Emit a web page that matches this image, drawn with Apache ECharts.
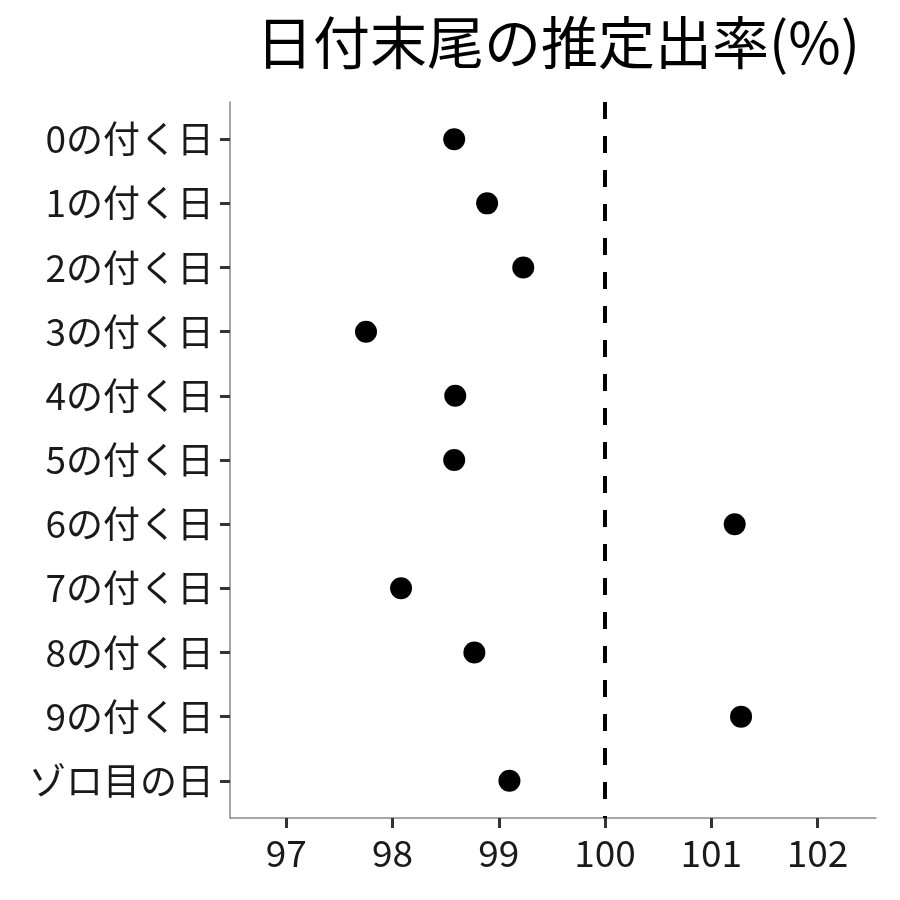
<!DOCTYPE html>
<html>
<head>
<meta charset="utf-8">
<script src="https://cdn.jsdelivr.net/npm/echarts@6/dist/echarts.min.js"></script>
<style>
  html, body { margin: 0; padding: 0; background: #fff; }
  #chart { width: 900px; height: 900px; }
</style>
</head>
<body>
<div id="chart"></div>
<script>
  'use strict';

  // categories top to bottom
  var categories = ['0の付く日', '1の付く日', '2の付く日', '3の付く日', '4の付く日',
    '5の付く日', '6の付く日', '7の付く日', '8の付く日', '9の付く日', 'ゾロ目の日'];
  // estimated rate (%)
  var rates = [98.58, 98.89, 99.23, 97.75, 98.59, 98.58, 101.22, 98.08, 98.77, 101.28, 99.10];
  var xTicks = [97, 98, 99, 100, 101, 102];
  var refLine = 100;

  var font = '"Noto Sans CJK JP", "Noto Sans", sans-serif';

  var points = rates.map(function(v, i) {
    return [v, i];
  });
  var yTicks = categories.map(function(c, i) {
    return i;
  });

  var chart = echarts.init(document.getElementById('chart'), null, { renderer: 'canvas' });

  chart.setOption({
    animation: false,
    backgroundColor: '#fff',
    title: {
      text: '日付末尾の推定出率(%)',
      left: 553,
      top: 9,
      textAlign: 'center',
      textStyle: {
        fontFamily: font,
        fontSize: 57,
        fontWeight: 'normal',
        color: '#000'
      }
    },
    grid: {
      left: 230,
      right: 24,
      top: 102,
      bottom: 82,
      containLabel: false
    },
    xAxis: {
      type: 'value',
      min: 96.47,
      max: 102.55,
      axisLine: { show: true, onZero: false, lineStyle: { color: '#8a8a8a', width: 1.5 } },
      axisTick: {
        show: true,
        customValues: xTicks,
        length: 10,
        lineStyle: { color: '#333', width: 3 }
      },
      axisLabel: {
        customValues: xTicks,
        margin: 16,
        fontFamily: font,
        fontSize: 37,
        color: '#1a1a1a'
      },
      splitLine: { show: false }
    },
    yAxis: {
      type: 'value',
      inverse: true,
      min: -0.58,
      max: 10.58,
      axisLine: { show: true, onZero: false, lineStyle: { color: '#8a8a8a', width: 1.5 } },
      axisTick: {
        show: true,
        customValues: yTicks,
        length: 10,
        lineStyle: { color: '#333', width: 3 }
      },
      axisLabel: {
        customValues: yTicks,
        margin: 16,
        fontFamily: font,
        fontSize: 37,
        color: '#1a1a1a',
        formatter: function(v) {
          return categories[Math.round(v)] || '';
        }
      },
      splitLine: { show: false }
    },
    series: [{
      type: 'scatter',
      data: points,
      symbol: 'circle',
      symbolSize: 22,
      itemStyle: { color: '#000', opacity: 1 },
      markLine: {
        silent: true,
        symbol: 'none',
        label: { show: false },
        lineStyle: { color: '#000', width: 4, type: [17, 17] },
        data: [{ xAxis: refLine }]
      }
    }]
  });
</script>
</body>
</html>
